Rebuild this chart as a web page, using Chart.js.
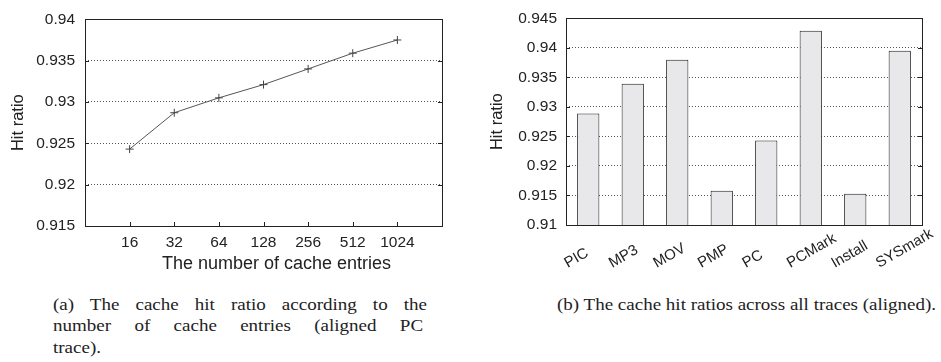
<!DOCTYPE html>
<html>
<head>
<meta charset="utf-8">
<script src="https://cdn.jsdelivr.net/npm/chart.js@4"></script>
<style>
  body { margin: 0; background: #fff; width: 941px; height: 362px; position: relative; overflow: hidden; }
  #wrapA { position: absolute; left: 0; top: 0; width: 470px; height: 274px; }
  #wrapB { position: absolute; left: 470px; top: 0; width: 471px; height: 280px; }
  .cap { position: absolute; font-family: "Liberation Serif", serif; font-size: 17px; line-height: 21.5px;
         color: #222; transform: scaleX(1.118); transform-origin: left top; }
  #capA { left: 53px; top: 293.5px; width: 334.5px; }
  #capA .j { text-align: justify; text-align-last: justify; }
  #capB { left: 557px; top: 293.5px; white-space: nowrap; }
</style>
</head>
<body>
<div id="wrapA"><canvas id="chartA"></canvas></div>
<div id="wrapB"><canvas id="chartB"></canvas></div>
<div class="cap" id="capA">
  <div class="j">(a) The cache hit ratio according to the</div>
  <div class="j" style="width: 331px">number of cache entries (aligned PC</div>
  <div>trace).</div>
</div>
<div class="cap" id="capB">(b) The cache hit ratios across all traces (aligned).</div>
<script>
// (a) hit ratio vs cache entries
const entryLabels = ["16", "32", "64", "128", "256", "512", "1024"];
const entryHitRatio = [0.9243, 0.9287, 0.9305, 0.9321, 0.9340, 0.9359, 0.9375];

// (b) hit ratio per trace
const traceLabels = ["PIC", "MP3", "MOV", "PMP", "PC", "PCMark", "Install", "SYSmark"];
const traceHitRatio = [0.9289, 0.9339, 0.9380, 0.9158, 0.9243, 0.9429, 0.9153, 0.9395];

const fontFam = "'Liberation Sans', Arial, sans-serif";
const ink = "#222";

function fmt(v) {
  return Number(v.toFixed(3)).toString();
}

// gnuplot-like frame with inward tick marks
const framePlugin = {
  id: "frame",
  afterDatasetsDraw(chart, args, opts) {
    const { ctx, chartArea: a, scales } = chart;
    ctx.save();
    ctx.strokeStyle = ink;
    ctx.lineWidth = 1;
    ctx.beginPath();
    scales.y.ticks.forEach(t => {
      const py = Math.round(scales.y.getPixelForValue(t.value)) + 0.5;
      ctx.moveTo(a.left, py); ctx.lineTo(a.left + 4, py);
      ctx.moveTo(a.right, py); ctx.lineTo(a.right - 4, py);
    });
    if (opts.xTicks) {
      scales.x.ticks.forEach(t => {
        if (t.value < 1 || t.value > entryLabels.length) return;
        const px = Math.round(scales.x.getPixelForValue(t.value)) + 0.5;
        ctx.moveTo(px, a.bottom); ctx.lineTo(px, a.bottom - 4);
      });
    }
    ctx.stroke();
    ctx.strokeRect(Math.round(a.left) + 0.5, Math.round(a.top) + 0.5,
      Math.round(a.right - a.left), Math.round(a.bottom - a.top));

    ctx.fillStyle = ink;
    // x title sits a little right of the plot centre, as in the original
    if (opts.xTitle) {
      ctx.font = "18px " + fontFam;
      ctx.textAlign = "center";
      ctx.textBaseline = "alphabetic";
      ctx.fillText(opts.xTitle, (a.left + a.right) / 2 + 13, a.bottom + 42.5);
    }
    // gnuplot "rotate by 30" labels: left-justified, starting a bit left of the tick
    if (opts.slantLabels) {
      ctx.font = "15px " + fontFam;
      ctx.textAlign = "left";
      ctx.textBaseline = "alphabetic";
      chart.data.labels.forEach((lab, i) => {
        const px = scales.x.getPixelForValue(i);
        ctx.save();
        ctx.translate(px - 20.5, a.bottom + 43);
        ctx.rotate(-Math.PI / 6);
        ctx.fillText(lab, 0, 0);
        ctx.restore();
      });
    }
    ctx.restore();
  }
};

const innerGrid = ctx => {
  const n = ctx.chart.scales.y.ticks.length;
  return (ctx.index === 0 || ctx.index === n - 1) ? "rgba(0,0,0,0)" : "#555";
};

new Chart(document.getElementById("chartA"), {
  type: "line",
  data: {
    datasets: [{
      data: entryHitRatio.map((v, i) => ({ x: i + 1, y: v })),
      borderColor: "#555",
      borderWidth: 1,
      pointStyle: "cross",
      pointRadius: 4,
      pointBorderColor: "#444",
      pointBorderWidth: 1,
      tension: 0,
      fill: false
    }]
  },
  options: {
    responsive: true,
    maintainAspectRatio: false,
    animation: false,
    events: [],
    layout: { padding: { top: 10, right: 28, left: 0, bottom: 0 } },
    plugins: {
      legend: { display: false },
      tooltip: { enabled: false },
      frame: { xTicks: true, xTitle: "The number of cache entries" }
    },
    scales: {
      x: {
        type: "linear",
        min: 0,
        max: entryLabels.length + 1,
        afterFit: s => { s.height = 48; },
        grid: { display: false, drawTicks: false },
        border: { display: false },
        ticks: {
          stepSize: 1,
          autoSkip: false,
          maxRotation: 0,
          padding: 7,
          color: ink,
          font: { family: fontFam, size: 15.5 },
          callback: v => entryLabels[v - 1] || ""
        }
      },
      y: {
        min: 0.915,
        max: 0.94,
        afterFit: s => { s.width = 85; },
        grid: { color: innerGrid, drawTicks: false, lineWidth: 1 },
        border: { display: false, dash: [1, 2] },
        ticks: {
          stepSize: 0.005,
          padding: 10,
          color: ink,
          font: { family: fontFam, size: 15.5 },
          callback: v => fmt(v)
        },
        title: {
          display: true,
          text: "Hit ratio",
          color: ink,
          font: { family: fontFam, size: 16.5 },
          padding: { top: 9, bottom: 0 }
        }
      }
    }
  },
  plugins: [framePlugin]
});

new Chart(document.getElementById("chartB"), {
  type: "bar",
  data: {
    labels: traceLabels,
    datasets: [{
      data: traceHitRatio,
      backgroundColor: "#e8e8ea",
      borderColor: ink,
      borderWidth: 1,
      barPercentage: 0.5,
      categoryPercentage: 1
    }]
  },
  options: {
    responsive: true,
    maintainAspectRatio: false,
    animation: false,
    events: [],
    layout: { padding: { top: 11, right: 19, left: 0, bottom: 0 } },
    plugins: {
      legend: { display: false },
      tooltip: { enabled: false },
      frame: { xTicks: false, slantLabels: true }
    },
    scales: {
      x: {
        afterFit: s => { s.height = 55; },
        grid: { display: false, drawTicks: false },
        border: { display: false },
        ticks: { display: false }
      },
      y: {
        min: 0.91,
        max: 0.945,
        afterFit: s => { s.width = 96; },
        grid: { color: innerGrid, drawTicks: false, lineWidth: 1 },
        border: { display: false, dash: [1, 2] },
        ticks: {
          stepSize: 0.005,
          padding: 9,
          color: ink,
          font: { family: fontFam, size: 15.5 },
          callback: v => fmt(v)
        },
        title: {
          display: true,
          text: "Hit ratio",
          color: ink,
          font: { family: fontFam, size: 16.5 },
          padding: { top: 18, bottom: 0 }
        }
      }
    }
  },
  plugins: [framePlugin]
});
</script>
</body>
</html>
